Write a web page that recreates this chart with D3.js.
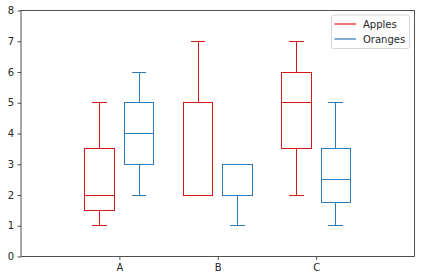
<!DOCTYPE html>
<html>
<head>
<meta charset="utf-8">
<script src="https://cdn.jsdelivr.net/npm/d3@7"></script>
<style>
  html, body { margin: 0; padding: 0; background: #fff; }
  svg { display: block; }
  text { font-family: "DejaVu Sans", sans-serif; }
</style>
</head>
<body>
<script>
// ---- data (five-number summaries) ----
const categories = ["A", "B", "C"];
const categoryPositions = [0, 2, 4];
const seriesNames = ["Apples", "Oranges"];
const seriesColors = ["#D7191C", "#2C7BB6"];
const seriesOffsets = [-0.4, 0.4];
// per series: [category][whiskerLow, q1, median, q3, whiskerHigh]
const applesStats = [
  [1, 1.5, 2, 3.5, 5],
  [2, 2, 5, 5, 7],
  [2, 3.5, 5, 6, 7]
];
const orangesStats = [
  [2, 3, 4, 5, 6],
  [1, 2, 2, 3, 3],
  [1, 1.75, 2.5, 3.5, 5]
];
const yTicks = [0, 1, 2, 3, 4, 5, 6, 7, 8];
const boxWidth = 0.6;

const W = 424, H = 280;
const margin = { left: 21, right: 424 - 414.5, top: 10.5, bottom: 280 - 256.5 };

const svg = d3.select("body").append("svg").attr("width", W).attr("height", H);

const x = d3.scaleLinear().domain([-2, 6]).range([margin.left, W - margin.right]);
const y = d3.scaleLinear().domain([0, 8]).range([H - margin.bottom, margin.top]);

const allStats = [applesStats, orangesStats];
const g = svg.append("g");

allStats.forEach((stats, si) => {
  const color = seriesColors[si];
  stats.forEach((s, ci) => {
    const cx = categoryPositions[ci] + seriesOffsets[si];
    const [lo, q1, med, q3, hi] = s;
    const bg = g.append("g").attr("stroke", color).attr("stroke-width", 1)
      .attr("fill", "none").attr("shape-rendering", "crispEdges");
    // whiskers
    bg.append("line").attr("x1", x(cx)).attr("x2", x(cx)).attr("y1", y(q1)).attr("y2", y(lo));
    bg.append("line").attr("x1", x(cx)).attr("x2", x(cx)).attr("y1", y(q3)).attr("y2", y(hi));
    // caps
    [lo, hi].forEach(v => {
      bg.append("line")
        .attr("x1", x(cx - boxWidth / 4)).attr("x2", x(cx + boxWidth / 4))
        .attr("y1", y(v)).attr("y2", y(v));
    });
    // box
    bg.append("rect")
      .attr("x", x(cx - boxWidth / 2)).attr("width", x(cx + boxWidth / 2) - x(cx - boxWidth / 2))
      .attr("y", y(q3)).attr("height", y(q1) - y(q3));
    // median
    bg.append("line")
      .attr("x1", x(cx - boxWidth / 2)).attr("x2", x(cx + boxWidth / 2))
      .attr("y1", y(med)).attr("y2", y(med));
  });
});

// axes
const xAxis = d3.axisBottom(x).tickValues(categoryPositions)
  .tickFormat((d, i) => categories[i]).tickSizeOuter(0).tickSize(3.5).tickPadding(3.5);
const yAxis = d3.axisLeft(y).tickValues(yTicks).tickFormat(d3.format("d"))
  .tickSizeOuter(0).tickSize(3.5).tickPadding(3.5);

const xg = svg.append("g").attr("transform", `translate(0,${H - margin.bottom})`).call(xAxis);
const yg = svg.append("g").attr("transform", `translate(${margin.left},0)`).call(yAxis);
[xg, yg].forEach(a => {
  a.select(".domain").remove();
  a.selectAll(".tick line").attr("stroke", "#262626").attr("stroke-width", 0.8);
  a.selectAll(".tick text").attr("fill", "#262626").style("font-size", "10px")
    .style("font-family", "'DejaVu Sans', sans-serif");
});

// spines
svg.append("rect")
  .attr("x", x(-2)).attr("y", y(8))
  .attr("width", x(6) - x(-2)).attr("height", y(0) - y(8))
  .attr("fill", "none").attr("stroke", "#262626").attr("stroke-width", 0.8);

// legend
const lg = svg.append("g");
lg.append("rect")
  .attr("x", 331.5).attr("y", 15).attr("width", 78).attr("height", 33.5)
  .attr("rx", 2).attr("fill", "#fff").attr("fill-opacity", 0.8)
  .attr("stroke", "#cccccc").attr("stroke-width", 0.8);
seriesNames.forEach((name, i) => {
  const ly = 24 + i * 15;
  lg.append("line").attr("x1", 334.5).attr("x2", 356).attr("y1", ly).attr("y2", ly)
    .attr("stroke", seriesColors[i]).attr("stroke-width", 1.5).attr("stroke-opacity", 0.8);
  lg.append("text").attr("x", 363).attr("y", ly).attr("dy", "0.35em")
    .attr("fill", "#262626").style("font-size", "10px").text(name);
});
</script>
</body>
</html>
